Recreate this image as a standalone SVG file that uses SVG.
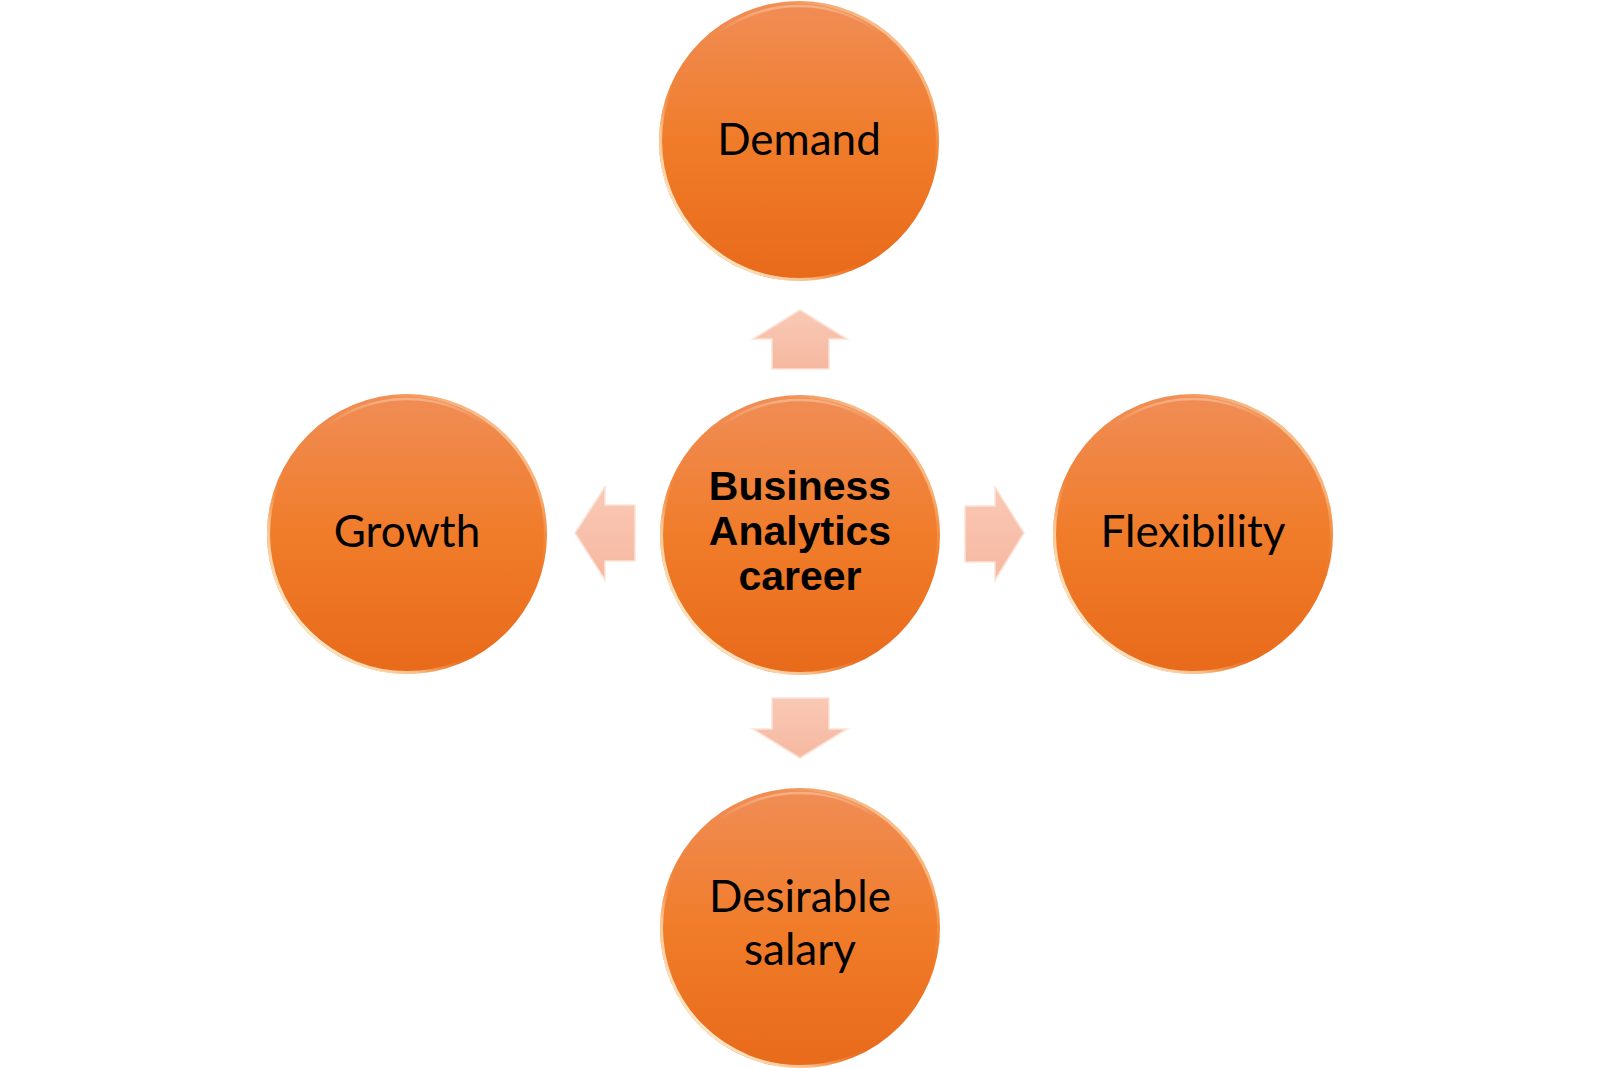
<svg xmlns="http://www.w3.org/2000/svg" width="1600" height="1068" viewBox="0 0 1600 1068">
<defs>
<style>
.ball{fill:url(#ballFill)}
.rim{fill:none;stroke:url(#rimGrad);stroke-width:3}
.rim2{fill:none;stroke:url(#rimGrad2);stroke-width:2.5}
.lbl{font-family:Lato,"Open Sans",sans-serif;font-size:44px;fill:#000;text-anchor:middle}
.main{font-family:"Liberation Sans",Arial,sans-serif;font-weight:bold;font-size:41px;fill:#000;text-anchor:middle}
.arr{fill:url(#arrFill);stroke:#FCE2D6;stroke-width:1.5;stroke-linejoin:miter}
</style>
<linearGradient id="ballFill" x1="0" y1="0" x2="0" y2="1">
<stop offset="0" stop-color="#F08D56"/>
<stop offset="0.5" stop-color="#F07C2A"/>
<stop offset="1" stop-color="#E86A1A"/>
</linearGradient>
<linearGradient id="rimGrad" x1="0.1" y1="0.9" x2="0.95" y2="0.05">
<stop offset="0" stop-color="#FFF6DC" stop-opacity="1"/>
<stop offset="0.2" stop-color="#FFE2B8" stop-opacity="0.7"/>
<stop offset="0.35" stop-color="#F07C2A" stop-opacity="0"/>
<stop offset="0.65" stop-color="#F07C2A" stop-opacity="0"/>
<stop offset="0.85" stop-color="#FFD9A8" stop-opacity="0.55"/>
<stop offset="1" stop-color="#FFF0D0" stop-opacity="0.8"/>
</linearGradient>
<linearGradient id="rimGrad2" x1="0" y1="0" x2="0" y2="1">
<stop offset="0" stop-color="#FFE6C8" stop-opacity="0.4"/>
<stop offset="0.1" stop-color="#FFE6C8" stop-opacity="0"/>
<stop offset="1" stop-color="#FFE6C8" stop-opacity="0"/>
</linearGradient>
<linearGradient id="arrFill" x1="0" y1="0" x2="0" y2="1">
<stop offset="0" stop-color="#F9C9B5"/>
<stop offset="1" stop-color="#F6B8A0"/>
</linearGradient>
</defs>
<rect width="1600" height="1068" fill="#FFFFFF"/>
<g id="connectors">
<polygon class="arr" points="800,310 847,339 829,339 829,369 772,369 772,339 753,339"/>
<polygon class="arr" points="800,758 847,729 829,729 829,698 772,698 772,729 753,729"/>
<polygon class="arr" points="575,533 605,487 605,505 635,505 635,561 605,561 605,580"/>
<polygon class="arr" points="1024,533 995,487 995,506 965,506 965,562 995,562 995,580"/>
</g>
<g id="node-center">
<circle class="ball" cx="800" cy="535" r="140"/>
<circle class="rim" cx="800" cy="535" r="138.5"/>
<circle class="rim2" cx="800" cy="535" r="135"/>
<text class="main" x="800" y="500">Business</text>
<text class="main" x="800" y="545">Analytics</text>
<text class="main" x="800" y="590">career</text>
</g>
<g id="node-demand">
<circle class="ball" cx="799" cy="141" r="140"/>
<circle class="rim" cx="799" cy="141" r="138.5"/>
<circle class="rim2" cx="799" cy="141" r="135"/>
<text class="lbl" x="799" y="155">Demand</text>
</g>
<g id="node-growth">
<circle class="ball" cx="407" cy="534" r="140"/>
<circle class="rim" cx="407" cy="534" r="138.5"/>
<circle class="rim2" cx="407" cy="534" r="135"/>
<text class="lbl" x="407" y="547">Growth</text>
</g>
<g id="node-flexibility">
<circle class="ball" cx="1193" cy="534" r="140"/>
<circle class="rim" cx="1193" cy="534" r="138.5"/>
<circle class="rim2" cx="1193" cy="534" r="135"/>
<text class="lbl" x="1193" y="547">Flexibility</text>
</g>
<g id="node-salary">
<circle class="ball" cx="800" cy="928" r="140"/>
<circle class="rim" cx="800" cy="928" r="138.5"/>
<circle class="rim2" cx="800" cy="928" r="135"/>
<text class="lbl" x="800" y="912">Desirable</text>
<text class="lbl" x="800" y="965">salary</text>
</g>
</svg>
